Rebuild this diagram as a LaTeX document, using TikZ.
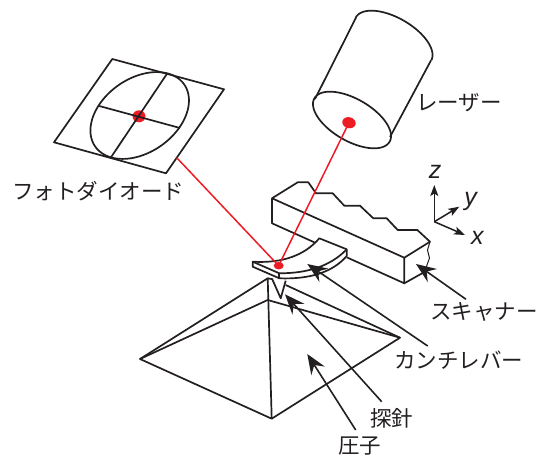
\documentclass[tikz,border=0pt]{standalone}
\usepackage{fontspec}
\setmainfont{Liberation Sans}
\newfontfamily\cjkf{Noto Sans CJK JP}
\usetikzlibrary{arrows.meta,shapes.geometric}
\definecolor{inkc}{RGB}{35,31,32}
\definecolor{redc}{RGB}{237,28,36}
\tikzset{
 ln/.style={draw=inkc,line width=1.7pt,line join=round},
 beam/.style={draw=redc,line width=1.5pt},
 spot/.style={fill=redc,draw=none,ellipse,inner sep=0pt},
 ptr/.style={draw=inkc,line width=1.6pt,-{Stealth[length=20pt,width=16pt,inset=7pt]}},
 axs/.style={draw=inkc,line width=1.5pt,-{Stealth[length=11pt,width=8pt,inset=2.5pt]}},
 lab/.style={inner sep=0pt,font=\cjkf\fontsize{21.5}{23}\selectfont,text=inkc},
 axl/.style={inner sep=0pt,font=\itshape\fontsize{25}{27}\selectfont,text=inkc}
}
\begin{document}
\begin{tikzpicture}[x=1pt,y=-1pt]
\useasboundingbox (0,0) rectangle (548,457);
% coordinates
\coordinate (pdA) at (112.3,59);\coordinate (pdB) at (224,89.3);\coordinate (pdC) at (166,173.3);\coordinate (pdD) at (54,142.3);
% spots under the drawing
\node[spot,minimum width=13pt,minimum height=12pt] (pdspot) at (139,116.3) {};
\node[spot,minimum width=13.5pt,minimum height=11pt,rotate=-15] (lasspot) at (349,122.7) {};
\coordinate (pdbeam) at (176.7,157.7);
% photodiode
\draw[ln] (pdA)--(pdB)--(pdC)--(pdD)--cycle;
\draw[ln,samples=120,domain=0:360] plot ({139.7+40.4*cos(\x)+28.2*sin(\x)},{115.5+11*cos(\x)-42*sin(\x)}) -- cycle;
\draw[ln] (167.3,73.3)--(111,157.3);
\draw[ln] (99.3,106)--(180,128);
% laser
\draw[ln,samples=120,domain=0:360] plot ({352+37.6*cos(\x)-10.5*sin(\x)},{120+21.7*cos(\x)+18.2*sin(\x)}) -- cycle;
\draw[ln,samples=90,domain=178.3:358.3] plot ({393.5+37.6*cos(\x)-10.5*sin(\x)},{39+21.7*cos(\x)+18.2*sin(\x)});
\draw[ln] ({393.5-37.6},{39-21.7+0.5}) -- (315,99);
\draw[ln] ({393.5+37.6},{39+21.7-0.5}) -- (390,137);
% scanner
\draw[ln] (272,198.3)--(297.7,182.3)--(308.3,182.3)--(316,193.3)--(332.7,193.3)--(344.3,205.7)--(360,205.7)--(373.3,218.3)--(386.7,218.3)--(397.7,230)--(417.3,230)--(430,241.7)--(404.3,257.7)--cycle;
\draw[ln] (272,198.3)--(272,223.3)--(314.3,242.3);
\draw[ln] (346.7,257.3)--(404.3,283.3)--(404.3,257.7);
\draw[ln] (404.3,283.3)--(425,271.7);
\draw[ln,line width=1pt] (430,241.7)--(427.5,250)--(429.5,258)--(427,265)--(425,271.7);
% pyramid
\coordinate (apex) at (267.7,278.3);\coordinate (ridge) at (267.7,300);
\coordinate (pl) at (140,359);\coordinate (pr) at (400,337.7);\coordinate (pb) at (271.7,418.7);
\draw[ln] (pl)--(apex)--(pb)--cycle;
\draw[ln] (pl)--(ridge)--(pr)--(pb);
\draw[ln] (285.7,285)--(pr);
\draw[ln] (apex)--(273,279.3);
% tip
\draw[ln] (272.3,279.3)--(280.7,298.3)--(285.7,280.7);
% cantilever
\draw[ln,fill=white] (252.7,261.7) .. controls (283,263.5) and (305,255) .. (319.3,238.3) -- (346.7,249.3) -- (346.7,256) .. controls (333,272) and (310,279.5) .. (279.3,278.3) -- (252.7,266.7) -- cycle;
\draw[ln] (252.7,261.7)--(279.3,273.3) .. controls (306.7,273.3) and (330,266.7) .. (346.7,249.3);
\draw[ln] (279.3,273.3)--(279.3,278.3);
% beams on top
\draw[beam] (pdbeam)--(277,264);
\draw[beam] (lasspot.center)--(279,265);
\node[spot,minimum width=10pt,minimum height=7.5pt] (cspot) at (278.7,265.7) {};
% axes
\coordinate (o) at (434.3,221.7);
\coordinate (zt) at (434.3,185);\coordinate (yt) at (459.3,206.7);\coordinate (xt) at (465,235);
\draw[axs] (o)--(zt);
\draw[axs] (o)--(yt);
\draw[axs] (o)--(xt);
\node[axl] (zl) at (435,171.7) {z};
\node[axl] (yl) at (470.7,201) {y};
\node[axl] (xl) at (477.3,237.7) {x};
% labels
\node[lab,anchor=west] (llas) at (416,103) {レーザー};
\node[lab,anchor=west] (lpd) at (12,191) {フォトダイオード};
\node[lab,anchor=west] (lsc) at (430,312) {スキャナー};
\node[lab,anchor=west] (lcan) at (394,360) {カンチレバー};
\node[lab,anchor=west] (ltip) at (370,418) {探針};
\node[lab,anchor=west] (lind) at (338,446) {圧子};
% pointers
\coordinate (ps) at (466,299.3);\coordinate (pc) at (427.7,346);\coordinate (pt) at (381.7,401.7);\coordinate (pi) at (355.7,430);
\draw[ptr] (ps)--(416,264);
\draw[ptr] (pc)--(307.3,264);
\draw[ptr] (pt)--(285,294.3);
\draw[ptr] (pi)--(307.3,354);
\end{tikzpicture}
\end{document}
